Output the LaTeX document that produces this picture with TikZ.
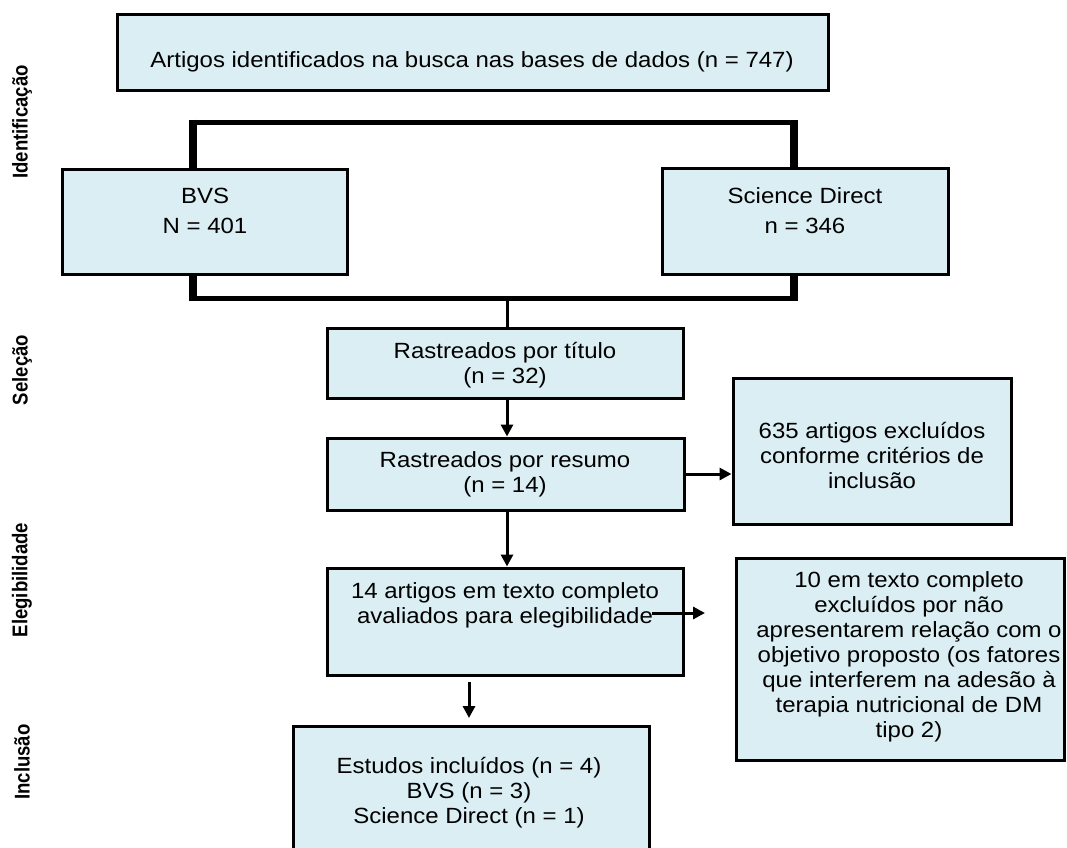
\documentclass[tikz,border=0pt]{standalone}
\usepackage{fontspec}
\setmainfont{Liberation Sans}[FakeStretch=1.09]
\newfontfamily\lblfont{Liberation Sans}[FakeStretch=0.87]
\usetikzlibrary{arrows.meta,fit}
\definecolor{boxfill}{HTML}{DAEEF3}
\begin{document}
\begin{tikzpicture}[x=0.75pt,y=-0.75pt,
  box/.style={draw=black, fill=boxfill, line width=2.25pt, inner sep=0pt},
  txt/.style={align=center, inner sep=0pt, font=\fontsize{16.5pt}{18.75pt}\selectfont},
  txtwide/.style={align=center, inner sep=0pt, font=\fontsize{16.5pt}{22.5pt}\selectfont},
  lbl/.style={rotate=90, inner sep=0pt, font=\lblfont\bfseries\fontsize{16pt}{18pt}\selectfont},
  bracket/.style={line width=3.75pt},
  bracketv/.style={line width=6pt},
  conn/.style={line width=2.25pt},
  arr/.style={conn, -{Triangle[length=9pt, width=9pt]}}]
\useasboundingbox (0,0) rectangle (1067,847);
\clip (0,0) rectangle (1067,847);
\fill[white] (0,0) rectangle (1067,847);

% bracket coordinates
\coordinate (tl) at (193,122);
\coordinate (tr) at (794,122);
\coordinate (bl) at (193,298);
\coordinate (br) at (794,298);
\coordinate (mid) at (507,298);

% boxes (geometry)
\node[box, fit={(117,14)(828,90)}] (top) {};
\node[box, fit={(62,169)(347,274)}] (bvs) {};
\node[box, fit={(662,168)(948,274)}] (sd) {};

% brackets
\draw[bracket] (tl |- bvs.north) -- (tl) -- (tr) -- (tr |- sd.north);
\draw[bracketv] (193,119.5) -- (tl |- bvs.north);
\draw[bracketv] (794,119.5) -- (tr |- sd.north);
\draw[bracket] (bl |- bvs.south) -- (bl) -- (br) -- (br |- sd.south);
\draw[bracketv] (193,300.5) -- (bl |- bvs.south);
\draw[bracketv] (794,300.5) -- (br |- sd.south);

% redraw boxes over bracket ends
\node[box, fit={(62,169)(347,274)}] (bvs2) {};
\node[box, fit={(662,168)(948,274)}] (sd2) {};

\node[box, fit={(327,328)(683,398)}] (title) {};
\node[box, fit={(327,438)(684,510)}] (resumo) {};
\node[box, fit={(733,378)(1011,524)}] (excl1) {};
\node[box, fit={(327,568)(683,675)}] (art14) {};
\node[box, fit={(736,558)(1064,760)}] (excl2) {};
\node[box, fit={(293,726)(649,870)}] (incl) {};

% texts
\node[txt] (toptxt) at (472,62) {Artigos identificados na busca nas bases de dados (n = 747)};
\node[txtwide] (bvstxt) at (205,211) {BVS\\N = 401};
\node[txtwide] (sdtxt) at (805,211) {Science Direct\\n = 346};
\node[txt] (titletxt) at (505,365) {Rastreados por título\\(n = 32)};
\node[txt] (resumotxt) at (505,474) {Rastreados por resumo\\(n = 14)};
\node[txt] (excl1txt) at (872,455) {635 artigos excluídos\\conforme critérios de\\inclusão};
\node[txt] (art14txt) at (505,605) {14 artigos em texto completo\\avaliados para elegibilidade};
\node[txt] (excl2txt) at (909,657) {10 em texto completo\\excluídos por não\\apresentarem relação com o\\objetivo proposto (os fatores\\que interferem na adesão à\\terapia nutricional de DM\\tipo 2)};
\node[txt] (incltxt) at (469,793) {Estudos incluídos (n = 4)\\BVS (n = 3)\\Science Direct (n = 1)};

% connectors
\draw[conn] (mid) -- (mid |- title.north);
\draw[arr] (mid |- title.south) -- (mid |- resumo.north);
\draw[arr] (resumo.east) -- (resumo.east -| excl1.west);
\draw[arr] (mid |- resumo.south) -- (mid |- art14.north);
\coordinate (a1) at (652,613);
\coordinate (a2) at (705,613);
\draw[arr] (a1) -- (a2);
\coordinate (b1) at (469,682);
\coordinate (b2) at (469,718);
\draw[arr] (b1) -- (b2);

% stage labels
\node[lbl] (l1) at (22,122) {Identificação};
\node[lbl] (l2) at (22,370) {Seleção};
\node[lbl] (l3) at (22,580) {Elegibilidade};
\node[lbl] (l4) at (22,762) {Inclusão};
\end{tikzpicture}
\end{document}
